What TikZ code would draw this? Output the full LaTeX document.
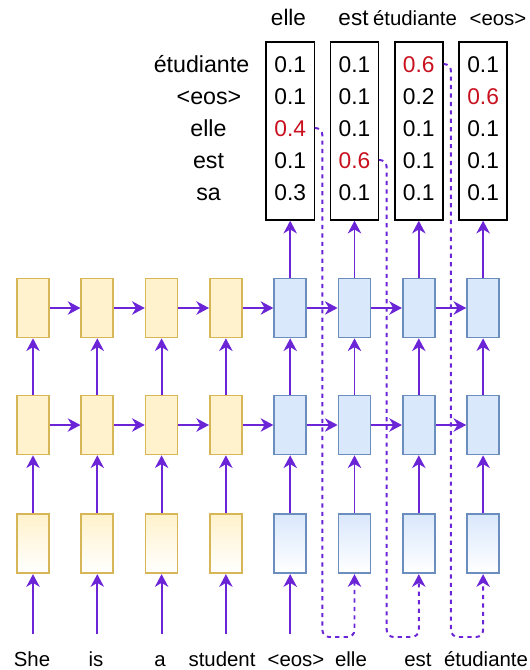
\documentclass[tikz,border=0pt]{standalone}
\usepackage{fontspec}
\setmainfont{Liberation Sans}
\usetikzlibrary{arrows.meta,calc}

\definecolor{encfill}{HTML}{FFF2CC}
\definecolor{encline}{HTML}{D6B656}
\definecolor{decfill}{HTML}{DAE8FC}
\definecolor{decline}{HTML}{6C8EBF}
\definecolor{flowc}{HTML}{6B24D6}
\definecolor{hot}{HTML}{C8101E}

\begin{document}
\begin{tikzpicture}[
		x=0.025cm, y=-0.025cm,
		cell/.style = {line width=1.2pt, minimum width=8mm, minimum height=14.75mm, inner sep=0pt},
		enc/.style  = {cell, draw=encline, fill=encfill},
		dec/.style  = {cell, draw=decline, fill=decfill},
		encin/.style = {cell, draw=encline, top color=encfill, bottom color=white},
		decin/.style = {cell, draw=decline, top color=decfill, bottom color=white},
		prob/.style = {draw, line width=1pt, minimum width=12mm, minimum height=44.5mm, inner sep=0pt,
			align=center, text depth=4pt, font={\fontsize{16.2pt}{22.76pt}\selectfont}},
		rowlab/.style = {inner sep=0pt, text height=11.6pt, text depth=0pt, font={\fontsize{16.5pt}{19pt}\selectfont}},
		word/.style = {inner sep=0pt, anchor=base, font={\fontsize{14.5pt}{17pt}\selectfont}},
		bigword/.style = {word, font={\fontsize{16pt}{19pt}\selectfont}},
		>={Stealth[length=9pt,width=9.5pt,inset=2.8pt]},
		flow/.style = {->, draw=flowc, line width=1.4pt},
		feed/.style = {flow, dash pattern=on 3pt off 3pt, rounded corners=5pt}
	]
	\useasboundingbox (0,0) rectangle (530,670);

	% embedding row
	\node[encin] (a1) at (33,543.8)    {};
	\node[encin] (a2) at (97.3,543.8)  {};
	\node[encin] (a3) at (161.6,543.8) {};
	\node[encin] (a4) at (225.9,543.8) {};
	\node[decin] (a5) at (290.2,543.8) {};
	\node[decin] (a6) at (354.5,543.8) {};
	\node[decin] (a7) at (418.8,543.8) {};
	\node[decin] (a8) at (483.1,543.8) {};

	% first recurrent layer
	\node[enc] (b1) at (33,425)    {};
	\node[enc] (b2) at (97.3,425)  {};
	\node[enc] (b3) at (161.6,425) {};
	\node[enc] (b4) at (225.9,425) {};
	\node[dec] (b5) at (290.2,425) {};
	\node[dec] (b6) at (354.5,425) {};
	\node[dec] (b7) at (418.8,425) {};
	\node[dec] (b8) at (483.1,425) {};

	% second recurrent layer
	\node[enc] (c1) at (33,308)    {};
	\node[enc] (c2) at (97.3,308)  {};
	\node[enc] (c3) at (161.6,308) {};
	\node[enc] (c4) at (225.9,308) {};
	\node[dec] (c5) at (290.2,308) {};
	\node[dec] (c6) at (354.5,308) {};
	\node[dec] (c7) at (418.8,308) {};
	\node[dec] (c8) at (483.1,308) {};

	% softmax outputs
	\node[prob] (p1) at (290.2,131) {0.1\\0.1\\\textcolor{hot}{0.4}\\0.1\\0.3};
	\node[prob] (p2) at (354.5,131) {0.1\\0.1\\0.1\\\textcolor{hot}{0.6}\\0.1};
	\node[prob] (p3) at (418.8,131) {\textcolor{hot}{0.6}\\0.2\\0.1\\0.1\\0.1};
	\node[prob] (p4) at (483.1,131) {0.1\\\textcolor{hot}{0.6}\\0.1\\0.1\\0.1};

	% vocabulary
	\node[rowlab] (wetu)  at (201.5,64) {étudiante};
	\node[rowlab] (weos)  at (209,96)   {<eos>};
	\node[rowlab] (welle) at (208.5,128) {elle};
	\node[rowlab] (west)  at (208.5,160) {est};
	\node[rowlab] (wsa)   at (208.5,192) {sa};

	% predicted words
	\node[bigword] (y1) at (288.5,26) {elle};
	\node[bigword] (y2) at (353.5,26) {est};
	\node[word]    (y3) at (415,26)   {étudiante};
	\node[word]    (y4) at (498,26)   {<eos>};

	% source and target inputs
	\node[word] (x1) at (32,666)    {She};
	\node[word] (x2) at (96,666)    {is};
	\node[word] (x3) at (160,666)   {a};
	\node[word] (x4) at (222,666)   {student};
	\node[word] (x5) at (296,666)   {<eos>};
	\node[word] (x6) at (351,666)   {elle};
	\node[word] (x7) at (418,666)   {est};
	\node[word] (x8) at (486,666)   {étudiante};

	\coordinate (s1) at (33,634);
	\coordinate (s2) at (97.3,634);
	\coordinate (s3) at (161.6,634);
	\coordinate (s4) at (225.9,634);
	\coordinate (s5) at (290.2,634);
	\coordinate (t1) at (322.35,637);
	\coordinate (t2) at (386.65,637);
	\coordinate (t3) at (450.95,637);

	\draw[flow] (s1) -- (a1);
	\draw[flow] (s2) -- (a2);
	\draw[flow] (s3) -- (a3);
	\draw[flow] (s4) -- (a4);
	\draw[flow] (s5) -- (a5);

	\draw[flow] (a1) -- (b1);
	\draw[flow] (a2) -- (b2);
	\draw[flow] (a3) -- (b3);
	\draw[flow] (a4) -- (b4);
	\draw[flow] (a5) -- (b5);
	\draw[flow] (a6) -- (b6);
	\draw[flow] (a7) -- (b7);
	\draw[flow] (a8) -- (b8);

	\draw[flow] (b1) -- (c1);
	\draw[flow] (b2) -- (c2);
	\draw[flow] (b3) -- (c3);
	\draw[flow] (b4) -- (c4);
	\draw[flow] (b5) -- (c5);
	\draw[flow] (b6) -- (c6);
	\draw[flow] (b7) -- (c7);
	\draw[flow] (b8) -- (c8);

	\draw[flow] (b1) -- (b2);
	\draw[flow] (b2) -- (b3);
	\draw[flow] (b3) -- (b4);
	\draw[flow] (b4) -- (b5);
	\draw[flow] (b5) -- (b6);
	\draw[flow] (b6) -- (b7);
	\draw[flow] (b7) -- (b8);

	\draw[flow] (c1) -- (c2);
	\draw[flow] (c2) -- (c3);
	\draw[flow] (c3) -- (c4);
	\draw[flow] (c4) -- (c5);
	\draw[flow] (c5) -- (c6);
	\draw[flow] (c6) -- (c7);
	\draw[flow] (c7) -- (c8);

	\draw[flow] (c5) -- (p1);
	\draw[flow] (c6) -- (p2);
	\draw[flow] (c7) -- (p3);
	\draw[flow] (c8) -- (p4);

	% greedy choice fed back as next input
	\draw[feed] (p1.east |- welle) -| (t1) -| (a6.south);
	\draw[feed] (p2.east |- west) -| (t2) -| (a7.south);
	\draw[feed] (p3.east |- wetu) -| (t3) -| (a8.south);
\end{tikzpicture}
\end{document}
